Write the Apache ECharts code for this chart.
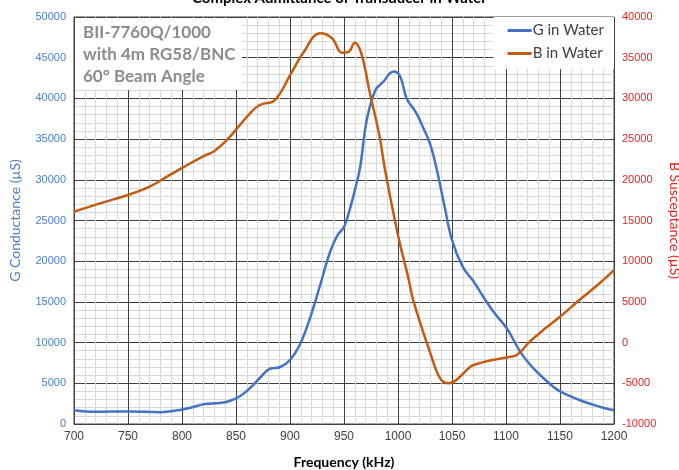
<!DOCTYPE html>
<html>
<head>
<meta charset="utf-8">
<script src="https://cdn.jsdelivr.net/npm/echarts@6/dist/echarts.min.js"></script>
<style>html,body{margin:0;padding:0;background:#fff}#c{width:679px;height:470px}</style>
</head>
<body>
<div id="c"></div>
<script>
// ---- data ----
const titleText = 'Complex Admittance of Transducer in Water';
const noteLines = ['BII-7760Q/1000', 'with 4m RG58/BNC', '60° Beam Angle'];
const seriesNames = ['G in Water', 'B in Water'];
const gFreq = [700, 720, 750, 780, 798, 807, 821, 835, 844, 854, 863, 872, 881, 891, 900, 909, 918, 928, 937, 944, 950, 955, 960, 965, 971, 979, 986, 996, 1002, 1008, 1017, 1023, 1030, 1036, 1043, 1050, 1060, 1070, 1081, 1090, 1101, 1114, 1125, 1140, 1150, 1168, 1180, 1190, 1200];
const gVals = [1700, 1500, 1550, 1450, 1720, 1970, 2460, 2580, 2830, 3440, 4420, 5650, 6760, 7000, 7860, 9700, 12800, 17100, 21100, 23200, 24200, 26200, 28700, 31600, 37300, 41000, 42000, 43300, 42700, 40000, 38200, 36500, 34300, 31200, 26800, 22600, 19300, 17500, 15200, 13500, 11700, 8700, 6900, 5000, 4000, 2950, 2400, 2000, 1700];
const bFreq = [700, 724, 750, 770, 786, 801, 820, 829, 840, 851, 863, 872, 886, 901, 912, 928, 939, 948, 954, 960, 966, 974, 983, 988, 1000, 1010, 1014, 1030, 1039, 1047, 1054, 1067, 1073, 1085, 1101, 1110, 1122, 1135, 1150, 1168, 1185, 1200];
const bVals = [16080, 17100, 18130, 19150, 20380, 21530, 22920, 23450, 24680, 26320, 28170, 29190, 29800, 33080, 35540, 38000, 37380, 35620, 35700, 36840, 35540, 30630, 25300, 21200, 13200, 7700, 5230, -1320, -4390, -5000, -4600, -2960, -2630, -2200, -1800, -1520, 110, 1600, 3180, 5230, 7100, 8900];
const xMin = 700, xMax = 1200, xStep = 50;
const gMin = 0, gMax = 50000, gStep = 5000;
const bMin = -10000, bMax = 40000, bStep = 5000;

const gData = gFreq.map((f, i) => [f, gVals[i]]);
const bData = bFreq.map((f, i) => [f, bVals[i]]);
const plain = v => String(v);

const chart = echarts.init(document.getElementById('c'), null, {renderer: 'canvas'});
const FONT = 'Liberation Sans';
chart.setOption({
  animation: false,
  backgroundColor: '#fff',
  title: {
    text: titleText, left: 'center', top: -14,
    textStyle: {fontFamily: 'Lato', fontWeight: 'bold', fontSize: 15, color: '#000'}
  },
  legend: {
    data: seriesNames, orient: 'vertical', right: 65, top: 17,
    backgroundColor: '#fff', padding: [6, 10, 8, 14], itemGap: 8,
    itemWidth: 24, itemHeight: 3, icon: 'rect',
    textStyle: {fontFamily: 'Lato', fontSize: 15, color: '#404040', padding: [0, 0, 0, -4]}
  },
  grid: {left: 74, right: 65, top: 17, bottom: 46, outerBoundsMode: 'none', containLabel: false,
         show: true, borderColor: '#404040', borderWidth: 1, backgroundColor: 'transparent'},
  xAxis: {
    type: 'value', min: xMin, max: xMax, interval: xStep,
    name: 'Frequency (kHz)', nameLocation: 'middle', nameGap: 31,
    nameTextStyle: {fontFamily: 'Lato', fontWeight: 'bold', fontSize: 14, color: '#000'},
    axisLine: {show: true, lineStyle: {color: '#404040'}},
    axisTick: {show: false},
    axisLabel: {fontFamily: FONT, fontSize: 12, color: '#404040', margin: 7, formatter: plain},
    splitLine: {show: true, lineStyle: {color: '#404040', width: 1}},
    minorTick: {show: false, splitNumber: 5},
    minorSplitLine: {show: true, lineStyle: {color: '#d9d9d9', width: 1}}
  },
  yAxis: [{
    type: 'value', min: gMin, max: gMax, interval: gStep, position: 'left',
    name: 'G Conductance (µS)', nameLocation: 'middle', nameGap: 52,
    nameTextStyle: {fontFamily: 'Lato', fontSize: 14, color: '#4a7fc8'},
    axisLine: {show: false}, axisTick: {show: false},
    axisLabel: {fontFamily: FONT, fontSize: 11, color: '#4a7fc8', margin: 8, formatter: plain},
    splitLine: {show: true, lineStyle: {color: '#404040', width: 1}},
    minorTick: {show: false, splitNumber: 5},
    minorSplitLine: {show: true, lineStyle: {color: '#d9d9d9', width: 1}}
  }, {
    type: 'value', min: bMin, max: bMax, interval: bStep, position: 'right',
    name: 'B Susceptance (µS)', nameLocation: 'middle', nameGap: 52, nameRotate: -90,
    nameTextStyle: {fontFamily: 'Lato', fontSize: 14, color: '#e8221e'},
    axisLine: {show: false}, axisTick: {show: false},
    axisLabel: {fontFamily: FONT, fontSize: 11, color: '#e8221e', margin: 8, formatter: plain},
    splitLine: {show: false}
  }],
  graphic: [
    {type: 'rect', left: 75, top: 18, z: 50, shape: {width: 167, height: 72}, style: {fill: '#fff'}},
    {type: 'text', left: 83, top: 22, z: 51, style: {text: noteLines.join('\n'), fontFamily: 'Lato', fontWeight: 'bold', fontSize: 17, lineHeight: 22, fill: '#8c8c8c'}}
  ],
  series: [{
    name: seriesNames[0], type: 'line', yAxisIndex: 0, data: gData, smooth: 0.4,
    showSymbol: false, symbol: 'none', lineStyle: {color: '#4472c4', width: 2.5}, itemStyle: {color: '#4472c4'}, z: 3
  }, {
    name: seriesNames[1], type: 'line', yAxisIndex: 1, data: bData, smooth: 0.4,
    showSymbol: false, symbol: 'none', lineStyle: {color: '#c55a11', width: 2.5}, itemStyle: {color: '#c55a11'}, z: 3
  }]
});
</script>
</body>
</html>
